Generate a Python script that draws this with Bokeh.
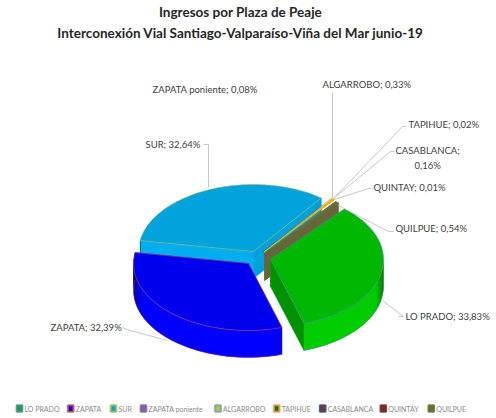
import math
from bokeh.plotting import figure
from bokeh.models import Range1d
from bokeh.core.properties import value
from bokeh.embed import file_html
from bokeh.resources import INLINE

# ---- data ----
categories = ["LO PRADO", "ZAPATA", "SUR", "ZAPATA poniente", "ALGARROBO", "TAPIHUE", "CASABLANCA", "QUINTAY", "QUILPUE"]
percent = [33.83, 32.39, 32.64, 0.08, 0.33, 0.02, 0.16, 0.01, 0.54]
fills = ["#00b800", "#0000ee", "#00a3dc", "#8064a2", "#f5b800", "#007a00", "#8a2f30", "#7a2a2a", "#6b6b35"]
walls = ["#00cc00", "#0000ff", "#00aeef", "#8064a2", "#f5b800", "#007a00", "#8a2f30", "#7a2a2a", "#66663a"]
borders = ["#4f81bd", "#c0504d", "#9bbb59", "#8064a2", "#4bacc6", "#f79646", "#2c4d75", "#772c2a", "#5f7530"]
title_lines = ["Ingresos por Plaza de Peaje", "Interconexión Vial Santiago-Valparaíso-Viña del Mar junio-19"]
label_texts = ["LO PRADO; 33,83%", "ZAPATA; 32,39%", "SUR; 32,64%", "ZAPATA poniente; 0,08%", "ALGARROBO; 0,33%",
               "TAPIHUE; 0,02%", "CASABLANCA;", "0,16%", "QUINTAY; 0,01%", "QUILPUE; 0,54%"]

# ---- layout ----
START = 41.0
RX_RIGHT, RX_LEFT, RY, DEPTH = 113.0, 115.0, 67.0, 27.0
APEX = {0: (270, 259), 1: (248, 263), 2: (253, 251), 3: (263, 251), 4: (263.5, 251.5),
        5: (263, 251), 6: (263, 251), 7: (263, 251), 8: (264, 253)}
DRAW_ORDER = [2, 3, 5, 6, 7, 8, 4, 1, 0]
SOLID = (0, 1, 2, 8)     # slices thick enough to show walls
label_x = [405, 50, 145, 152, 322, 408, 395, 414, 373, 395]
label_y = [316, 327, 144, 89, 84, 124, 150, 165, 187, 228]
leaders = [([398, 403, 382], [316, 316, 300]), ([122, 126, 167], [327, 329, 340]),
           ([203, 208, 208], [144, 144, 187]), ([332, 332], [92, 198]),
           ([406, 402, 333], [126, 126, 198]), ([394, 390, 333], [151, 151, 198]),
           ([372, 368, 334], [188, 188, 199]), ([393, 388, 338], [231, 231, 205])]
legend_x = [15.5, 66.7, 109.5, 139.5, 214, 272.7, 318.7, 379.3, 427.3]
legend_y = 408

p = figure(width=496, height=418, output_backend="svg", toolbar_location=None,
           x_range=Range1d(0, 496), y_range=Range1d(418, 0), min_border=0,
           outline_line_color=None, background_fill_color="white", border_fill_color="white")
p.axis.visible = False
p.grid.visible = False


def pt(i, deg, drop=0.0):
    a = math.radians(deg)
    ax, ay = APEX[i]
    s = math.sin(a)
    return ax + (RX_RIGHT if s >= 0 else RX_LEFT) * s, ay - RY * math.cos(a) + drop


def shade(hexcol, f):
    r, g, b = (int(hexcol[k:k + 2], 16) for k in (1, 3, 5))
    return "#%02x%02x%02x" % (int(r * f), int(g * f), int(b * f))


def wall_factor(deg):
    d = deg % 360
    if d < 135:
        return min(1.0, 0.40 + 0.60 * max(0.0, d - 90) / 22)
    if d > 225:
        return min(1.0, 0.40 + 0.60 * max(0.0, 275 - d) / 30)
    return 1.0


bounds = []
acc = START
for v in percent:
    bounds.append((acc, acc + v * 3.6))
    acc += v * 3.6

END_WALL = {0: 0.72, 1: 1.0, 2: 0.93, 8: 1.0}

for i in DRAW_ORDER:
    a0, a1 = bounds[i]
    n = max(2, int((a1 - a0) / 1.5))
    angs = [a0 + (a1 - a0) * k / n for k in range(n + 1)]
    ax, ay = APEX[i]
    if i in SOLID:
        # radial walls
        xs, ys, cols = [], [], []
        for ang, f in ((a0, 1.0), (a1, END_WALL[i])):
            ex, ey = pt(i, ang)
            xs.append([ax, ex, ex, ax])
            ys.append([ay, ey, ey + DEPTH, ay + DEPTH])
            cols.append(shade(walls[i], f))
        p.patches(xs, ys, fill_color=cols, line_color=cols, line_width=0.5)
    # outer wall, strip by strip; each strip overlaps the next so no seams show
    if i == 0:
        m2 = int((a1 - 88) / 1.5)
        strip = [88 + (a1 - 88) * k / m2 for k in range(m2 + 1)]
    elif i == 1:
        strip = angs
    elif i == 2:
        strip = [a for a in angs if a < 282]
    else:
        strip = []
    xs, ys, cols = [], [], []
    for k in range(len(strip) - 1):
        m = (strip[k] + strip[k + 1]) / 2
        x0, y0 = pt(i, strip[k])
        x1, y1 = pt(i, strip[min(k + 2, len(strip) - 1)])
        xs.append([x0, x1, x1, x0])
        ys.append([y0, y1, y1 + DEPTH, y0 + DEPTH])
        cols.append(shade(walls[i], wall_factor(m)))
    if xs:
        p.patches(xs, ys, fill_color=cols, line_color=None)
    # top face
    outline = [pt(i, a) for a in angs]
    tx = [ax] + [q[0] for q in outline]
    ty = [ay] + [q[1] for q in outline]
    if i in SOLID:
        p.patch(tx, ty, fill_color=fills[i], line_color=borders[i], line_width=0.7, line_alpha=0.8)
    else:
        p.patch(tx, ty, fill_color=fills[i], line_color=fills[i],
                line_width=0.9 if i == 4 else 0.3, line_alpha=0.9 if i == 4 else 0.4)
    if i in (0, 1):
        p.line([pt(i, a, DEPTH)[0] for a in strip], [pt(i, a, DEPTH)[1] for a in strip],
               line_color=borders[i], line_width=0.6, line_alpha=0.7)

for lx, ly in leaders:
    p.line(lx, ly, line_color="#c8c8c8", line_width=1.0)

font = value("Lato")
p.text(label_x, label_y, text=label_texts, text_font=font, text_font_size="9.5px",
       text_color="#404040", text_baseline="middle", text_align="left")
p.text([240, 240], [11, 32], text=title_lines, text_font=font, text_font_size="13.5px",
       text_font_style="bold", text_color="#262626", text_baseline="middle", text_align="center")

p.rect([x + 3.5 for x in legend_x], [legend_y] * 9, width=5.5, height=6.5, fill_color=fills,
       line_color=borders, line_width=2.2, line_alpha=0.85)
p.text([x + 8.5 for x in legend_x], [legend_y] * 9, text=categories, text_font=font, text_font_size="7px",
       text_color="#8a8a8a", text_baseline="middle", text_align="left")

open("out.html", "w").write(file_html(p, INLINE))
